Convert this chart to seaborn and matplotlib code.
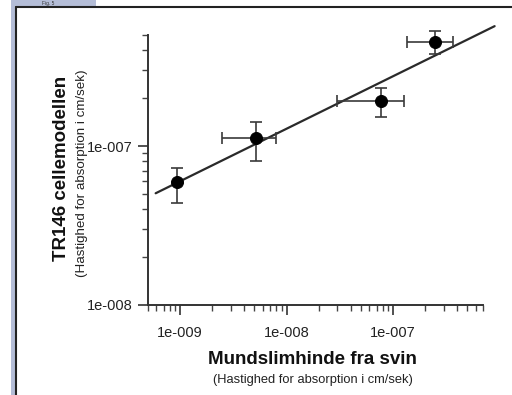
import numpy as np
import pandas as pd
import matplotlib
matplotlib.use("Agg")
import matplotlib.pyplot as plt
import matplotlib.ticker as mticker
from matplotlib.patches import Rectangle
from matplotlib.lines import Line2D
import seaborn as sns

# ---- data ----
x_vals = [9.4e-10, 5.2e-9, 7.7e-8, 2.5e-7]
y_vals = [5.9e-8, 1.12e-7, 1.93e-7, 4.49e-7]
x_lo = [9.4e-10, 2.5e-9, 3.0e-8, 1.36e-7]
x_hi = [9.4e-10, 8.0e-9, 1.27e-7, 3.65e-7]
y_lo = [4.4e-8, 8.1e-8, 1.53e-7, 3.77e-7]
y_hi = [7.26e-8, 1.42e-7, 2.33e-7, 5.27e-7]
fit_range = [5.9e-10, 9.0e-7]
x_ticks = [1e-9, 1e-8, 1e-7]
y_ticks = [1e-8, 1e-7]
x_label = "Mundslimhinde fra svin"
x_sub = "(Hastighed for absorption i cm/sek)"
y_label = "TR146 cellemodellen"
y_sub = "(Hastighed for absorption i cm/sek)"
fig_tag = "Fig. 5"

df = pd.DataFrame({"x": x_vals, "y": y_vals})

sns.set_style("ticks")
plt.rcParams["font.family"] = ["Liberation Sans", "DejaVu Sans"]

W, H = 512, 395
fig = plt.figure(figsize=(W / 100, H / 100), dpi=100)
ax = fig.add_axes([148 / W, 1 - 305 / H, (483 - 148) / W, (305 - 35) / H])

# fit line in log-log space
lx = np.log10(x_vals)
ly = np.log10(y_vals)
slope, icpt = np.polyfit(lx, ly, 1)
fx = np.array(fit_range)
fy = 10 ** (icpt + slope * np.log10(fx))
fit_df = pd.DataFrame({"x": fx, "y": fy})
sns.lineplot(data=fit_df, x="x", y="y", ax=ax, color="#2a2a2a", lw=1.6,
             clip_on=False, zorder=2)

xv = np.array(x_vals); yv = np.array(y_vals)
xerr = [xv - np.array(x_lo), np.array(x_hi) - xv]
yerr = [yv - np.array(y_lo), np.array(y_hi) - yv]
ax.errorbar(xv, yv, xerr=xerr, yerr=yerr, fmt="none", ecolor="#3a3a3a",
            elinewidth=1.2, capsize=4, capthick=1.2, zorder=3, clip_on=False)
sns.scatterplot(data=df, x="x", y="y", ax=ax, s=75, color="black",
                edgecolor="black", zorder=4, clip_on=False)

ax.set_xscale("log")
ax.set_yscale("log")
ax.set_xlim(5e-10, 7e-7)
ax.set_ylim(1e-8, 5e-7)

fmt = mticker.FuncFormatter(lambda v, p: "1e-%03d" % int(round(-np.log10(v))))
ax.xaxis.set_major_locator(mticker.FixedLocator(x_ticks))
ax.yaxis.set_major_locator(mticker.FixedLocator(y_ticks))
ax.xaxis.set_major_formatter(fmt)
ax.yaxis.set_major_formatter(fmt)
ax.xaxis.set_minor_locator(mticker.LogLocator(base=10, subs=np.arange(2, 10)))
ax.yaxis.set_minor_locator(mticker.LogLocator(base=10, subs=np.arange(2, 10)))
ax.xaxis.set_minor_formatter(mticker.NullFormatter())
ax.yaxis.set_minor_formatter(mticker.NullFormatter())

ax.set_xlabel("")
ax.set_ylabel("")
for s in ["top", "right"]:
    ax.spines[s].set_visible(False)
for s in ["left", "bottom"]:
    ax.spines[s].set_linewidth(1.4)
    ax.spines[s].set_color("#333333")
ax.tick_params(axis="both", which="major", length=7, width=1.2, color="#333333",
               labelsize=10.5, labelcolor="#222222")
ax.tick_params(axis="both", which="minor", length=4, width=1.0, color="#444444")
ax.tick_params(axis="x", which="major", pad=8)
ax.tick_params(axis="y", which="major", pad=4)

# axis titles
fig.text(312 / W, 1 - 360 / H, x_label, ha="center", va="center",
         fontsize=13.5, fontweight="bold", color="#111111")
fig.text(313 / W, 1 - 380 / H, x_sub, ha="center", va="center",
         fontsize=9.3, color="#222222")
fig.text(62 / W, 1 - 168 / H, y_label, ha="center", va="center", rotation=90,
         fontsize=13.5, fontweight="bold", color="#111111")
fig.text(82 / W, 1 - 173 / H, y_sub, ha="center", va="center", rotation=90,
         fontsize=9.6, color="#222222")

# page frame
blue = "#b4bdd7"
fig.patches.append(Rectangle((11 / W, 0), 4 / W, 1, transform=fig.transFigure,
                             facecolor=blue, edgecolor="none", zorder=0))
fig.patches.append(Rectangle((11 / W, 1 - 6 / H), 85 / W, 6 / H,
                             transform=fig.transFigure, facecolor=blue,
                             edgecolor="none", zorder=0))
fig.lines.append(Line2D([15.5 / W, 15.5 / W], [0, 1 - 6.5 / H],
                        transform=fig.transFigure, color="#222222", lw=1.5))
fig.lines.append(Line2D([15.5 / W, 1], [1 - 6.5 / H, 1 - 6.5 / H],
                        transform=fig.transFigure, color="#222222", lw=1.5))
fig.text(42 / W, 1 - 3 / H, fig_tag, ha="left", va="center", fontsize=3.5,
         color="#333333")

fig.savefig("out.png", dpi=100)
